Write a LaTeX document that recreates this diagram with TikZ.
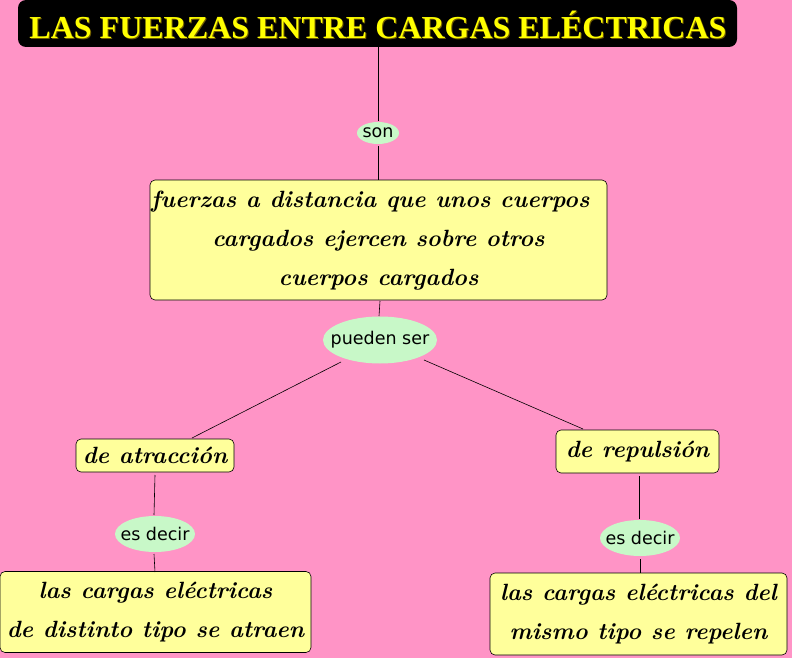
\documentclass[tikz,border=0pt]{standalone}
\usepackage{fontspec}
\newfontfamily\labelfont{DejaVu Sans}
\newfontfamily\titlefont{Liberation Serif}
\usetikzlibrary{shapes.geometric}
\definecolor{bgpink}{RGB}{255,148,198}
\definecolor{boxyellow}{RGB}{255,255,155}
\definecolor{ovalgreen}{RGB}{200,248,200}
\definecolor{titleyellow}{RGB}{255,255,0}
\definecolor{titleshadow}{RGB}{110,90,0}
\tikzset{
  x=1pt, y=-1pt,
  conceptfont/.style={font=\fontsize{23.5}{39}\selectfont\bfseries\itshape},
  concept/.style={draw=black, line width=0.6pt, fill=boxyellow, rounded corners=5pt,
    conceptfont, align=center, inner sep=0pt},
  link/.style={fill=ovalgreen, ellipse, inner ysep=-3pt, font=\labelfont\fontsize{17.5}{20}\selectfont},
  conn/.style={draw=black, line width=0.6pt},
}
\begin{document}
\begin{tikzpicture}
\fill[bgpink] (0,0) rectangle (792,658);
\useasboundingbox (0,0) rectangle (792,658);
% title
\node[fill=black, rounded corners=8pt, minimum width=719pt, minimum height=47pt, inner sep=0pt] (title) at (377.5,23.5) {};
\node[text=titleshadow, font=\titlefont\bfseries\fontsize{32}{33}\selectfont] at (379,26) {LAS FUERZAS ENTRE CARGAS ELÉCTRICAS};
\node[text=titleyellow, font=\titlefont\bfseries\fontsize{32}{33}\selectfont] (titletext) at (378,25) {LAS FUERZAS ENTRE CARGAS ELÉCTRICAS};
% main box
\node[concept, minimum width=457pt, minimum height=120pt] (main) at (378.5,240) {};
\node[conceptfont, align=center, anchor=north, inner sep=0pt] (maintext) at (378.5,191)
  {\hspace*{-0.7em}fuerzas a distancia que unos cuerpos\\cargados ejercen sobre otros\\cuerpos cargados};
% link ovals
\node[link, inner xsep=-1.5pt, minimum width=42pt, minimum height=22pt] (son) at (378,133) {son};
\node[link, inner xsep=-9pt, minimum width=114pt, minimum height=47pt] (pueden) at (380,340) {pueden ser};
\node[link, inner xsep=-8pt, minimum width=80pt, minimum height=36pt] (esl) at (155,534) {es decir};
\node[link, inner xsep=-8pt, minimum width=80pt, minimum height=36pt] (esr) at (640,538) {es decir};
% concept boxes
\node[concept, minimum width=158pt, minimum height=33pt] (atr) at (155,455.5) {de atracción};
\node[concept, minimum width=163pt, minimum height=43pt] (rep) at (637.5,451.5) {de repulsión};
\node[concept, minimum width=311pt, minimum height=81pt] (atraen) at (155.5,612) {las cargas eléctricas\\de distinto tipo se atraen};
\node[concept, minimum width=297pt, minimum height=82pt] (repelen) at (638.5,614) {las cargas eléctricas del\\mismo tipo se repelen};
% connectors
\coordinate (t1) at (378,47); \coordinate (s1) at (378,121);
\coordinate (s2) at (378,146); \coordinate (m1) at (378,180);
\coordinate (m2) at (380,301); \coordinate (p1) at (379,316);
\coordinate (p2) at (341,362); \coordinate (a1) at (192,438);
\coordinate (p3) at (424,360); \coordinate (r1) at (583,429);
\coordinate (a2) at (155,475); \coordinate (e1) at (154,515);
\coordinate (e2) at (154,554); \coordinate (b1) at (155,572);
\coordinate (r2) at (639,476); \coordinate (e3) at (639,519);
\coordinate (e4) at (640,559); \coordinate (b2) at (640,573);
\draw[conn] (t1) -- (s1);
\draw[conn] (s2) -- (m1);
\draw[conn] (m2) -- (p1);
\draw[conn] (p2) -- (a1);
\draw[conn] (p3) -- (r1);
\draw[conn] (a2) -- (e1);
\draw[conn] (e2) -- (b1);
\draw[conn] (r2) -- (e3);
\draw[conn] (e4) -- (b2);
\end{tikzpicture}
\end{document}
